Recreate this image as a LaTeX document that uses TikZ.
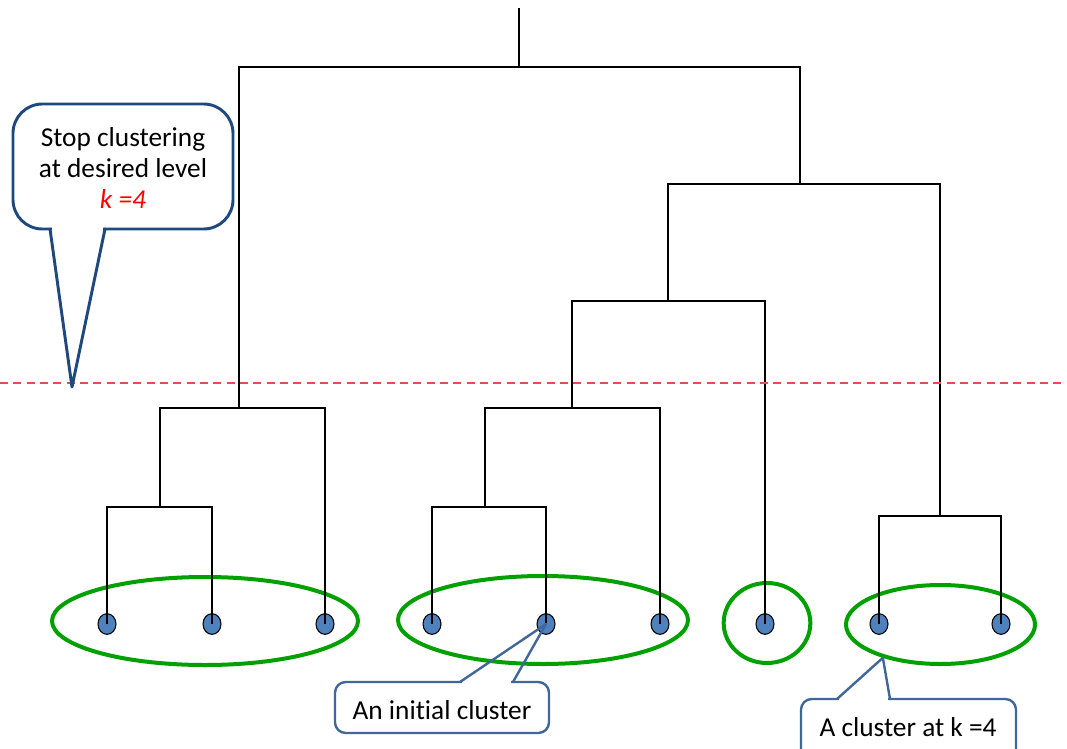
\documentclass[tikz,border=0pt]{standalone}
\usepackage{fontspec}
\setmainfont{Carlito}[Ligatures=NoCommon]
\usepackage{tikz}
\usetikzlibrary{shapes.geometric, positioning}
\definecolor{dot_blue}{HTML}{4F81BD}
\definecolor{call_dark}{HTML}{1F497D}
\definecolor{call_light}{HTML}{41679A}
\definecolor{clus_green}{HTML}{00A000}
\definecolor{cut_red}{HTML}{E05050}
\tikzset{
  leaf/.style={ellipse,draw=black,line width=.8pt,fill=dot_blue,inner sep=0pt,minimum width=13.5pt,minimum height=15.5pt},
  cluster/.style={ellipse,draw=clus_green,line width=3pt,inner sep=0pt},
  merge/.style={draw=black,line width=.9pt},
  cutline/.style={draw=cut_red,line width=.8pt,dash pattern=on 6pt off 4pt},
  callbig/.style={draw=call_dark,line width=2.2pt,line join=round,line cap=round},
  callsmall/.style={draw=call_light,line width=1.8pt,line join=round,line cap=round},
  calltext/.style={align=center,inner sep=0pt,font=\fontsize{20.5}{23.25}\selectfont},
}
\begin{document}
\begin{tikzpicture}[x=0.75pt,y=-0.75pt]
  \clip (0,0) rectangle (1067,749);
  % clusters at k=4
  \node[cluster,minimum width=229.5pt,minimum height=66pt] (c1) at (205,621) {};
  \node[cluster,minimum width=217.5pt,minimum height=66pt] (c2) at (543,620) {};
  \node[cluster,minimum width=65pt,minimum height=60pt] (c3) at (767,623) {};
  \node[cluster,minimum width=141.75pt,minimum height=59.25pt] (c4) at (940.5,624.5) {};
  % data points
  \foreach \n/\x in {1/107,2/212,3/325,4/432,5/546,6/660,7/765,8/879,9/1001}
    \node[leaf] (l\n) at (\x,624) {};
  % merge points
  \coordinate (m12) at (160,507);
  \coordinate (m123) at (239,408);
  \coordinate (m45) at (485,507);
  \coordinate (m456) at (572,408);
  \coordinate (m4567) at (668,301);
  \coordinate (m89) at (940,516);
  \coordinate (mR) at (800,184);
  \coordinate (mroot) at (519,67);
  \coordinate (top) at (519,8);
  \draw[merge] (l1.center) |- (m12) -| (l2.center);
  \draw[merge] (m12) |- (m123) -| (l3.center);
  \draw[merge] (l4.center) |- (m45) -| (l5.center);
  \draw[merge] (m45) |- (m456) -| (l6.center);
  \draw[merge] (m456) |- (m4567) -| (l7.center);
  \draw[merge] (l8.center) |- (m89) -| (l9.center);
  \draw[merge] (m4567) |- (mR) -| (m89);
  \draw[merge] (m123) |- (mroot) -| (mR);
  \draw[merge] (mroot) -- (top);
  % cut level
  \coordinate (cutL) at (0,383);
  \coordinate (cutR) at (1067,383);
  \draw[cutline] (cutL) -- (cutR);
  % callouts
  \coordinate (stoptip) at (72,387);
  \draw[callbig,rounded corners=22] (13,104) rectangle (233,229);
  \fill[white] (52,225) rectangle (103,233);
  \draw[callbig] (50,229) -- (stoptip) -- (105,229);
  \node[calltext] (stop) at (123,168) {Stop clustering\\at desired level\\{\color{red}\itshape k =4}};
  \draw[callsmall,rounded corners=8] (335,682) rectangle (549,733);
  \fill[white] (462,678) rectangle (511,686);
  \draw[callsmall] (460,682) -- (l5.center) -- (513,682);
  \node[calltext] (initial) at (442,710) {An initial cluster};
  \draw[callsmall,rounded corners=8] (801,699) rectangle (1016,765);
  \fill[white] (839,695) rectangle (888,703);
  \draw[callsmall] (837,699) -- (c4.210) -- (890,699);
  \node[calltext] (atk) at (908,727) {A cluster at k =4};
\end{tikzpicture}
\end{document}
